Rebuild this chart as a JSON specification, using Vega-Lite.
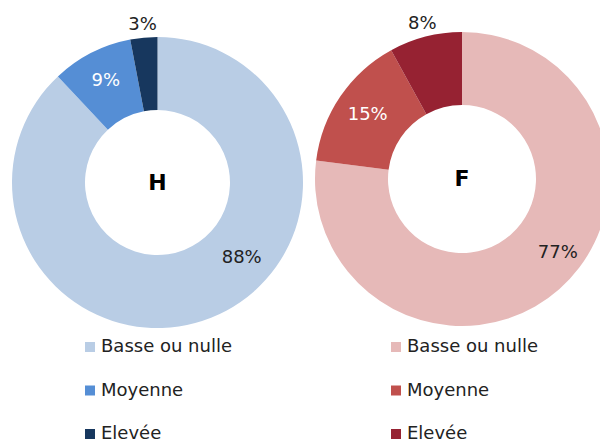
{
  "$schema": "https://vega.github.io/schema/vega-lite/v6.json",
  "padding": 0,
  "spacing": 0,
  "data": {"values": [
    {"sexe": "H", "niveau": "Basse ou nulle", "part": 88, "label": "88%"},
    {"sexe": "H", "niveau": "Moyenne", "part": 9, "label": "9%"},
    {"sexe": "H", "niveau": "Elevée", "part": 3, "label": "3%"},
    {"sexe": "F", "niveau": "Basse ou nulle", "part": 77, "label": "77%"},
    {"sexe": "F", "niveau": "Moyenne", "part": 15, "label": "15%"},
    {"sexe": "F", "niveau": "Elevée", "part": 8, "label": "8%"}
  ]},
  "hconcat": [
    {
      "width": 315,
      "height": 365,
      "transform": [{"filter": "datum.sexe == 'H'"}],
      "layer": [
        {
          "mark": {"type": "arc", "innerRadius": 72.5, "outerRadius": 145.5},
          "encoding": {
            "theta": {"field": "part", "type": "quantitative", "stack": true},
            "order": {"field": "part", "sort": "descending"},
            "color": {
              "field": "niveau", "type": "nominal",
              "scale": {"domain": ["Basse ou nulle", "Moyenne", "Elevée"], "range": ["#B9CDE5", "#558ED5", "#17375E"]},
              "legend": {"title": null, "orient": "none", "legendX": 81, "legendY": 338}
            }
          }
        },
        {
          "mark": {"type": "text", "radius": 113, "thetaOffset": -0.464, "fontSize": 18, "color": "#222222", "align": "center", "baseline": "middle"},
          "encoding": {
            "theta": {"field": "part", "type": "quantitative", "stack": true},
            "order": {"field": "part", "sort": "descending"},
            "detail": {"field": "niveau"},
            "text": {"field": "label", "condition": {"test": "datum.niveau != 'Basse ou nulle'", "value": ""}}
          }
        },
        {
          "mark": {"type": "text", "radius": 114, "fontSize": 18, "color": "#FFFFFF", "align": "center", "baseline": "middle"},
          "encoding": {
            "theta": {"field": "part", "type": "quantitative", "stack": true},
            "order": {"field": "part", "sort": "descending"},
            "detail": {"field": "niveau"},
            "text": {"field": "label", "condition": {"test": "datum.niveau != 'Moyenne'", "value": ""}}
          }
        },
        {
          "mark": {"type": "text", "radius": 158, "fontSize": 18, "color": "#222222", "align": "center", "baseline": "middle"},
          "encoding": {
            "theta": {"field": "part", "type": "quantitative", "stack": true},
            "order": {"field": "part", "sort": "descending"},
            "detail": {"field": "niveau"},
            "text": {"field": "label", "condition": {"test": "datum.niveau != 'Elevée'", "value": ""}}
          }
        },
        {
          "data": {"values": [{"sexe": "H"}]},
          "mark": {"type": "text", "fontSize": 22, "fontWeight": "bold", "color": "#000000", "align": "center", "baseline": "middle"},
          "encoding": {"text": {"field": "sexe"}}
        }
      ]
    },
    {
      "width": 294,
      "height": 358,
      "transform": [{"filter": "datum.sexe == 'F'"}],
      "layer": [
        {
          "mark": {"type": "arc", "innerRadius": 74, "outerRadius": 147},
          "encoding": {
            "theta": {"field": "part", "type": "quantitative", "stack": true},
            "order": {"field": "part", "sort": "descending"},
            "color": {
              "field": "niveau", "type": "nominal",
              "scale": {"domain": ["Basse ou nulle", "Moyenne", "Elevée"], "range": ["#E6B9B8", "#C0504D", "#962232"]},
              "legend": {"title": null, "orient": "none", "legendX": 72, "legendY": 338}
            }
          }
        },
        {
          "mark": {"type": "text", "radius": 121, "thetaOffset": -0.192, "fontSize": 18, "color": "#222222", "align": "center", "baseline": "middle"},
          "encoding": {
            "theta": {"field": "part", "type": "quantitative", "stack": true},
            "order": {"field": "part", "sort": "descending"},
            "detail": {"field": "niveau"},
            "text": {"field": "label", "condition": {"test": "datum.niveau != 'Basse ou nulle'", "value": ""}}
          }
        },
        {
          "mark": {"type": "text", "radius": 114, "fontSize": 18, "color": "#FFFFFF", "align": "center", "baseline": "middle"},
          "encoding": {
            "theta": {"field": "part", "type": "quantitative", "stack": true},
            "order": {"field": "part", "sort": "descending"},
            "detail": {"field": "niveau"},
            "text": {"field": "label", "condition": {"test": "datum.niveau != 'Moyenne'", "value": ""}}
          }
        },
        {
          "mark": {"type": "text", "radius": 160, "fontSize": 18, "color": "#222222", "align": "center", "baseline": "middle"},
          "encoding": {
            "theta": {"field": "part", "type": "quantitative", "stack": true},
            "order": {"field": "part", "sort": "descending"},
            "detail": {"field": "niveau"},
            "text": {"field": "label", "condition": {"test": "datum.niveau != 'Elevée'", "value": ""}}
          }
        },
        {
          "data": {"values": [{"sexe": "F"}]},
          "mark": {"type": "text", "fontSize": 22, "fontWeight": "bold", "color": "#000000", "align": "center", "baseline": "middle"},
          "encoding": {"text": {"field": "sexe"}}
        }
      ]
    }
  ],
  "resolve": {"scale": {"color": "independent", "theta": "independent"}},
  "config": {
    "view": {"stroke": null},
    "font": "DejaVu Sans",
    "text": {"font": "DejaVu Sans"},
    "legend": {
      "symbolType": "square",
      "symbolSize": 100,
      "symbolStrokeWidth": 0,
      "labelFont": "DejaVu Sans",
      "labelFontSize": 18,
      "labelColor": "#222222",
      "labelOffset": 2,
      "rowPadding": 25.5,
      "labelLimit": 300
    }
  }
}
